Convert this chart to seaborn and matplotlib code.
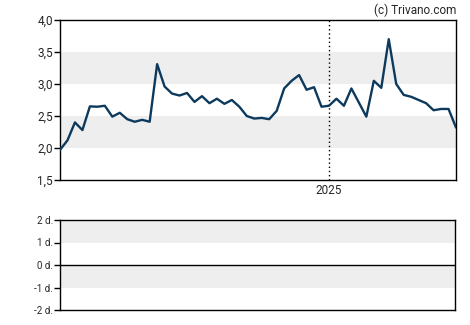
import pandas as pd
import matplotlib.pyplot as plt
import seaborn as sns

# weekly values, first week late April 2024
values = [1.97, 2.12, 2.40, 2.28, 2.65, 2.645, 2.66, 2.49, 2.55, 2.45,
          2.41, 2.44, 2.41, 3.31, 2.96, 2.85, 2.82, 2.86, 2.72, 2.81,
          2.70, 2.77, 2.69, 2.75, 2.645, 2.50, 2.46, 2.47, 2.45, 2.58,
          2.93, 3.05, 3.14, 2.91, 2.95, 2.645, 2.66, 2.77, 2.66, 2.93,
          2.71, 2.49, 3.05, 2.94, 3.70, 3.00, 2.83, 2.80, 2.75, 2.70,
          2.59, 2.61, 2.61, 2.32]
dates = pd.date_range("2024-04-24", periods=len(values), freq="7D")
year_mark = pd.Timestamp("2025-01-01")

top_ticks = [1.5, 2.0, 2.5, 3.0, 3.5, 4.0]
top_labels = ["1,5", "2,0", "2,5", "3,0", "3,5", "4,0"]
bottom_ticks = [-2, -1, 0, 1, 2]
bottom_labels = ["-2 d.", "-1 d.", "0 d.", "1 d.", "2 d."]

df = pd.DataFrame({"date": dates, "value": values})

sns.set_style("white")
plt.rcParams['font.family'] = ['Roboto', 'DejaVu Sans']

fig = plt.figure(figsize=(4.7, 3.25), dpi=100)
ax = fig.add_axes([60/470, 145/325, 396/470, 160/325])
ax2 = fig.add_axes([60/470, 15/325, 395/470, 90/325])

# top chart
ax.axhspan(2.0, 2.5, color="#eeeeee", lw=0, zorder=0)
ax.axhspan(3.0, 3.5, color="#eeeeee", lw=0, zorder=0)
ax.axvline(year_mark, color="black", ls=(0, (1, 2)), lw=1, zorder=1)
sns.lineplot(data=df, x="date", y="value", ax=ax, color="#0d3a5c", lw=1.7, zorder=3)
ax.set_xlim(dates[0], dates[-1])
ax.set_ylim(1.5, 4.0)
ax.set_yticks(top_ticks)
ax.set_yticklabels(top_labels, fontsize=8.5)
ax.set_xticks([year_mark])
ax.set_xticklabels(["2025"], fontsize=8.5)
ax.tick_params(axis="y", length=4, width=1, color="black", pad=1, left=True)
ax.tick_params(axis="x", length=0, pad=3)
ax.set_xlabel("")
ax.set_ylabel("")
for s in ax.spines.values():
    s.set_color("black")
    s.set_linewidth(1)
ax.text(1.0, 1.02, "(c) Trivano.com", transform=ax.transAxes, ha="right", va="bottom", fontsize=8.5)

# bottom chart
ax2.axhspan(1, 2, color="#eeeeee", lw=0, zorder=0)
ax2.axhspan(-1, 0, color="#eeeeee", lw=0, zorder=0)
ax2.axhline(0, color="black", lw=1)
ax2.set_ylim(-2, 2)
ax2.set_xlim(0, 1)
ax2.set_yticks(bottom_ticks)
ax2.set_yticklabels(bottom_labels, fontsize=7)
ax2.set_xticks([])
ax2.tick_params(axis="y", length=4, width=1, color="black", pad=1, left=True)
for s in ax2.spines.values():
    s.set_color("black")
    s.set_linewidth(1)

plt.savefig("out.png", dpi=100)
